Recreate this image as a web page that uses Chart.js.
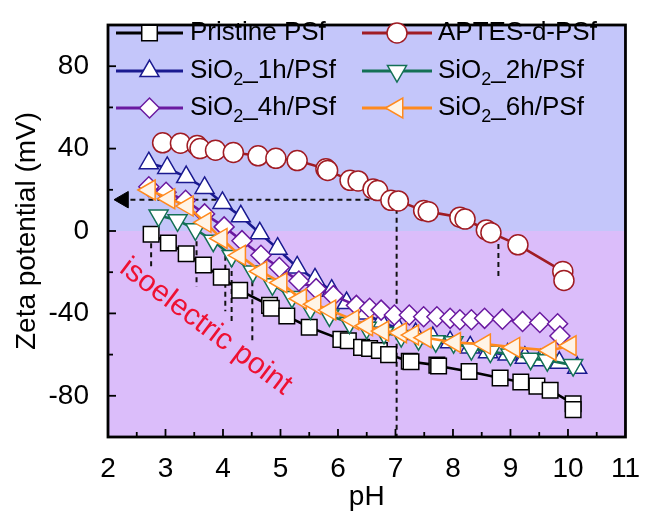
<!DOCTYPE html>
<html>
<head>
<meta charset="utf-8">
<script src="https://cdn.jsdelivr.net/npm/chart.js@4"></script>
<style>
  html, body { margin: 0; padding: 0; background: #fff; }
</style>
</head>
<body>
<canvas id="c" width="650" height="514"></canvas>
<script>
// --- data (pH, zeta potential in mV) ---
const pristinePH   = [2.75, 3.05, 3.36, 3.66, 3.97, 4.29, 4.81, 4.84, 5.11, 5.50, 6.05, 6.18, 6.41, 6.55, 6.72, 6.88, 7.24, 7.27, 7.72, 7.75, 8.28, 8.82, 9.18, 9.46, 9.69, 10.09, 10.09];
const pristineZeta = [-1.6, -5.8, -11, -16.5, -22.4, -28.8, -36.1, -37.5, -41.3, -46.7, -52.6, -53.3, -56.5, -57, -58, -60, -63.2, -63.5, -65.1, -65.5, -68.2, -71.4, -73.3, -75.3, -77.3, -83.9, -86.7];

const aptesPH   = [2.95, 3.26, 3.55, 3.60, 3.87, 4.18, 4.61, 4.92, 5.29, 5.79, 5.82, 6.21, 6.35, 6.61, 6.69, 6.92, 7.05, 7.49, 7.57, 8.12, 8.21, 8.58, 8.66, 9.13, 9.91, 9.93];
const aptesZeta = [42.8, 42.6, 41.5, 40, 39.2, 38.1, 36.5, 35.3, 34.2, 30.2, 29.4, 24.6, 24.3, 20.4, 19.6, 14.9, 14.6, 9.9, 9.4, 6.7, 5.8, 0.5, -0.8, -6.7, -19.6, -24];

const si1hPH   = [2.71, 3.03, 3.36, 3.68, 3.99, 4.31, 4.64, 4.95, 5.29, 5.60, 5.89, 6.15, 6.45, 6.75, 7.05, 7.35, 7.65, 7.95, 8.30, 8.61, 8.95, 9.25, 9.52, 9.85, 10.16];
const si1hZeta = [32.9, 30.6, 26.2, 20.9, 13.6, 7.1, -1.1, -8.6, -17.7, -23.5, -29, -35, -40, -44, -47.5, -50, -52, -54, -56.5, -58.8, -60, -61.5, -62.7, -64, -66.4];

const si2hPH   = [2.88, 3.21, 3.52, 3.83, 4.15, 4.52, 4.86, 5.20, 5.52, 5.85, 6.20, 6.50, 6.80, 7.10, 7.40, 7.70, 8.01, 8.32, 8.65, 9.00, 9.35, 9.64, 10.09];
const si2hZeta = [7.5, 5.2, 0.8, -4.7, -12.1, -19.6, -25.9, -32, -37.6, -41, -44.5, -47, -49.5, -51, -52.5, -53.5, -54, -57.3, -58.5, -60, -62, -62.7, -65.1];

const si4hPH   = [2.71, 3.01, 3.35, 3.68, 4.02, 4.33, 4.66, 4.98, 5.32, 5.62, 5.92, 6.32, 6.55, 6.75, 6.98, 7.24, 7.49, 7.72, 7.95, 8.12, 8.32, 8.55, 8.86, 9.21, 9.51, 9.82, 9.86];
const si4hZeta = [21.5, 18.8, 14.9, 8.3, 2, -4.7, -11.8, -17.7, -24.3, -28, -31.4, -36.1, -37.5, -38.4, -40.8, -40.8, -41.6, -41.6, -42.4, -43.1, -43.1, -42.4, -42.8, -43.9, -44.4, -45, -51];

const si6hPH   = [2.72, 3.06, 3.38, 3.69, 3.97, 4.29, 4.66, 5.01, 5.35, 5.60, 5.86, 6.26, 6.50, 6.78, 7.09, 7.30, 7.52, 8.03, 8.55, 9.06, 9.69, 10.04];
const si6hZeta = [19.9, 15.7, 12.1, 4.2, -3.6, -11.8, -19.6, -25.1, -32.9, -35.5, -38.4, -43.1, -46, -48.6, -49.4, -50.5, -51.8, -54.1, -54.9, -56.5, -58, -55.7];

// isoelectric markers (short dashed verticals): pH, top, bottom
const isoPH     = [2.75, 3.54, 4.04, 4.15, 4.51, 8.79];
const isoTop    = [-6, -5, -12, -15, -20, -2];
const isoBottom = [-19, -27, -39, -45, -53, -22.6];
// arrow from APTES point at pH 7 back to the y axis
const arrowY = 15.2, arrowFromPH = 7.02, arrowTipPH = 2.27;

const xTicks = [2, 3, 4, 5, 6, 7, 8, 9, 10, 11];
const yTicks = [-80, -40, 0, 40, 80];

const pts = (xs, ys) => xs.map((x, i) => ({ x: x, y: ys[i] }));

const series = [
  { label: 'Pristine PSf', xs: pristinePH, ys: pristineZeta, color: '#000000', fill: '#ffffff', style: 'rect', rot: 0, r: 11, order: 5 },
  { label: 'APTES-d-PSf', xs: aptesPH, ys: aptesZeta, color: '#a01c24', fill: '#ffffff', style: 'circle', rot: 0, r: 10, order: 6 },
  { label: ['SiO', '2', '_1h/PSf'], xs: si1hPH, ys: si1hZeta, color: '#1a1a90', fill: '#ffffff', style: 'triangle', rot: 0, r: 11, order: 4 },
  { label: ['SiO', '2', '_2h/PSf'], xs: si2hPH, ys: si2hZeta, color: '#137055', fill: '#ffffff', style: 'triangle', rot: 180, r: 11, order: 3 },
  { label: ['SiO', '2', '_4h/PSf'], xs: si4hPH, ys: si4hZeta, color: '#6a1aa0', fill: '#ffffff', style: 'rectRot', rot: 0, r: 10, order: 2 },
  { label: ['SiO', '2', '_6h/PSf'], xs: si6hPH, ys: si6hZeta, color: '#ff8a1e', fill: '#fff4e6', style: 'triangle', rot: -90, r: 11.5, order: 1 }
];

const datasets = series.map(s => ({
  label: Array.isArray(s.label) ? s.label.join('') : s.label,
  data: pts(s.xs, s.ys),
  borderColor: s.color,
  backgroundColor: s.fill,
  borderWidth: 2.6,
  pointStyle: s.style,
  pointRotation: s.rot,
  pointRadius: s.r,
  pointBorderWidth: 1.5,
  pointBorderColor: s.color,
  pointBackgroundColor: s.fill,
  tension: 0,
  order: s.order
}));

const dashStyle = { borderColor: '#111', borderWidth: 2, borderDash: [5, 4], pointRadius: 0, order: 10, fill: false };
isoPH.forEach((p, i) => {
  datasets.push(Object.assign({ data: [{ x: p, y: isoTop[i] }, { x: p, y: isoBottom[i] }] }, dashStyle));
});
datasets.push(Object.assign({ data: [{ x: arrowTipPH + 0.12, y: arrowY }, { x: arrowFromPH, y: arrowY }] }, dashStyle));
datasets.push(Object.assign({ data: [{ x: arrowFromPH, y: arrowY }, { x: arrowFromPH, y: -100 }] }, dashStyle));
// arrow head
datasets.push({ data: [{ x: arrowTipPH, y: arrowY }], showLine: false, pointStyle: 'triangle', pointRotation: -90,
  pointRadius: 9.5, pointBackgroundColor: '#000', pointBorderColor: '#000', pointBorderWidth: 1, order: 9 });

const FONT = '"Liberation Sans", Arial, sans-serif';

const decor = {
  id: 'decor',
  beforeDatasetsDraw(chart) {
    const { ctx, chartArea: a, scales: { y } } = chart;
    const y0 = y.getPixelForValue(0);
    ctx.save();
    ctx.fillStyle = '#c4c6fa';
    ctx.fillRect(a.left, a.top, a.right - a.left, y0 - a.top);
    ctx.fillStyle = '#dbbdfa';
    ctx.fillRect(a.left, y0, a.right - a.left, a.bottom - y0);
    // rotated label
    const tx = chart.scales.x.getPixelForValue(3.7), ty = y.getPixelForValue(-46.5);
    ctx.translate(tx, ty);
    ctx.rotate(37 * Math.PI / 180);
    ctx.fillStyle = '#ee1133';
    ctx.font = '30px ' + FONT;
    ctx.textAlign = 'center';
    ctx.textBaseline = 'middle';
    ctx.fillText('isoelectric point', 0, 0);
    ctx.restore();
  },
  afterDraw(chart) {
    const { ctx, chartArea: a, scales: { x, y } } = chart;
    ctx.save();
    ctx.strokeStyle = '#000';
    ctx.lineWidth = 1.8;
    for (let v = 2.5; v < 11; v += 0.5) {
      const px = x.getPixelForValue(v);
      const len = Number.isInteger(v) ? 8 : 5;
      ctx.beginPath(); ctx.moveTo(px, a.bottom); ctx.lineTo(px, a.bottom - len); ctx.stroke();
    }
    for (let v = -80; v <= 80; v += 20) {
      const py = y.getPixelForValue(v);
      const len = v % 40 === 0 ? 8 : 5;
      ctx.beginPath(); ctx.moveTo(a.left, py); ctx.lineTo(a.left + len, py); ctx.stroke();
    }
    ctx.lineWidth = 2.8;
    ctx.strokeRect(a.left, a.top, a.right - a.left, a.bottom - a.top);

    // legend, two columns
    const cols = [{ l1: 116, l2: 183, tx: 190 }, { l1: 362, l2: 432, tx: 438 }];
    const rows = [33, 71, 108];
    series.forEach((s, i) => {
      const c = cols[i % 2], ry = rows[Math.floor(i / 2)];
      ctx.strokeStyle = s.color;
      ctx.lineWidth = 2.8;
      ctx.beginPath(); ctx.moveTo(c.l1, ry); ctx.lineTo(c.l2, ry); ctx.stroke();
      ctx.fillStyle = s.fill;
      ctx.strokeStyle = s.color;
      ctx.lineWidth = 1.5;
      Chart.helpers.drawPoint(ctx, { pointStyle: s.style, rotation: s.rot, radius: s.r, borderWidth: 1.5 }, (c.l1 + c.l2) / 2, ry);
      ctx.fillStyle = '#000';
      ctx.textBaseline = 'middle';
      ctx.textAlign = 'left';
      if (Array.isArray(s.label)) {
        ctx.font = '26px ' + FONT;
        let tx = c.tx;
        ctx.fillText(s.label[0], tx, ry);
        tx += ctx.measureText(s.label[0]).width;
        ctx.font = '18px ' + FONT;
        ctx.fillText(s.label[1], tx, ry + 9);
        tx += ctx.measureText(s.label[1]).width;
        ctx.font = '26px ' + FONT;
        ctx.fillText(s.label[2], tx, ry);
      } else {
        ctx.font = '26px ' + FONT;
        ctx.fillText(s.label, c.tx, ry);
      }
    });
    ctx.restore();
  }
};

new Chart(document.getElementById('c'), {
  type: 'line',
  data: { datasets: datasets },
  options: {
    responsive: false,
    animation: false,
    devicePixelRatio: 1,
    layout: { padding: { left: 0, right: 17, top: 13, bottom: 0 } },
    plugins: { legend: { display: false }, tooltip: { enabled: false } },
    scales: {
      x: {
        type: 'linear', min: 2, max: 11,
        afterBuildTicks: s => { s.ticks = xTicks.map(v => ({ value: v })); },
        afterFit: s => { s.height = 77; },
        grid: { display: false }, border: { display: false },
        ticks: { color: '#000', font: { family: FONT, size: 28, lineHeight: 1 }, padding: 10, maxRotation: 0 },
        title: { display: true, text: 'pH', color: '#000', font: { family: FONT, size: 28 }, padding: { top: 0, bottom: 0 } }
      },
      y: {
        type: 'linear', min: -100, max: 100,
        afterBuildTicks: s => { s.ticks = yTicks.map(v => ({ value: v })); },
        afterFit: s => { s.width = 108; },
        grid: { display: false }, border: { display: false },
        ticks: { color: '#000', font: { family: FONT, size: 28, lineHeight: 1 }, padding: 11 },
        title: { display: true, text: 'Zeta potential (mV)', color: '#000', font: { family: FONT, size: 28 }, padding: { top: 10, bottom: 0 } }
      }
    }
  },
  plugins: [decor]
});
</script>
</body>
</html>
